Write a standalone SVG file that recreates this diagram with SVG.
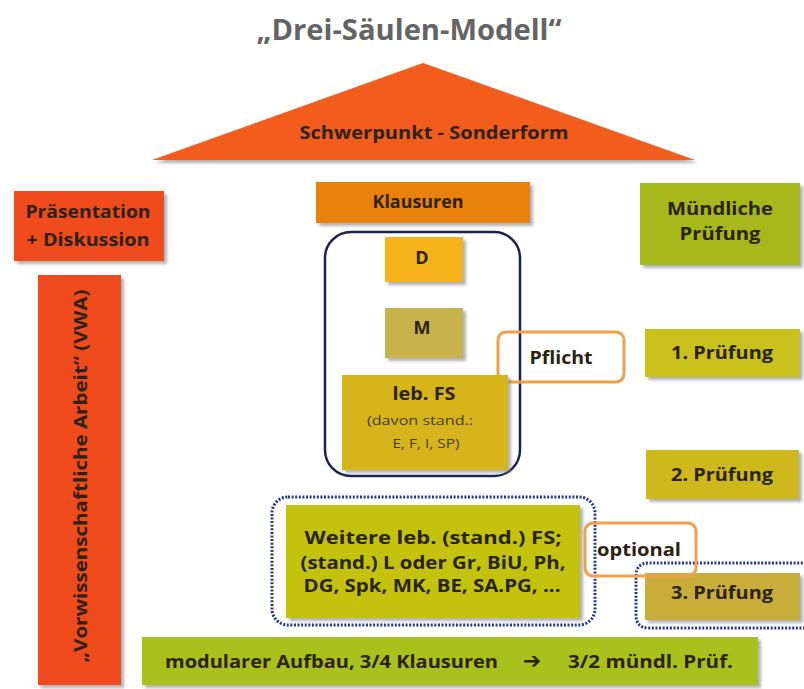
<svg xmlns="http://www.w3.org/2000/svg" width="804" height="689" viewBox="0 0 804 689">
<style>
text{font-family:"Open Sans","Liberation Sans",sans-serif}
.t{font-weight:bold;font-size:18px;fill:#2b2210;text-anchor:middle}
.s{font-size:13px;fill:#4a3a10;text-anchor:middle}
.box{filter:url(#sh)}
.ring{fill:none;stroke:#f0a048;stroke-width:3}
.dot{fill:none;stroke:#25368c;stroke-width:3;stroke-dasharray:2 1.6}
</style>
<defs>
<filter id="sh" x="-10%" y="-10%" width="130%" height="140%">
<feDropShadow dx="3" dy="3" stdDeviation="1.5" flood-color="#808080" flood-opacity="0.6"/>
</filter>
</defs>
<rect width="804" height="689" fill="#ffffff"/>
<text x="409" y="40" font-weight="bold" font-size="28" fill="#646464" text-anchor="middle" textLength="305" lengthAdjust="spacingAndGlyphs">„Drei-Säulen-Modell“</text>
<g id="roof">
<polygon class="box" points="152,160 423,63 695,160" fill="#f25c1a"/>
<text class="t" x="434" y="139" textLength="269" lengthAdjust="spacingAndGlyphs">Schwerpunkt - Sonderform</text>
</g>
<g id="praesentation">
<rect class="box" x="14" y="191" width="150" height="70" fill="#f04c1c"/>
<text class="t" x="88" y="218" textLength="125" lengthAdjust="spacingAndGlyphs">Präsentation</text>
<text class="t" x="88" y="246" textLength="123" lengthAdjust="spacingAndGlyphs">+ Diskussion</text>
</g>
<g id="vwa">
<rect class="box" x="38" y="275" width="83" height="410" fill="#f04c1c"/>
<text class="t" transform="translate(87,476) rotate(-90)" textLength="373" lengthAdjust="spacingAndGlyphs">„Vorwissenschaftliche Arbeit“ (VWA)</text>
</g>
<g id="klausuren">
<rect class="box" x="316" y="182" width="214" height="41" fill="#e8820f"/>
<text class="t" x="418" y="208" textLength="91" lengthAdjust="spacingAndGlyphs">Klausuren</text>
</g>
<g id="pflicht-frame">
<rect x="325" y="232" width="195" height="244" rx="26" fill="none" stroke="#1c2250" stroke-width="2.5"/>
</g>
<g id="pflicht">
<rect class="ring" x="498" y="332" width="126" height="50" rx="8"/>
<text class="t" x="561" y="364" textLength="63" lengthAdjust="spacingAndGlyphs">Pflicht</text>
</g>
<g id="d">
<rect class="box" x="385" y="237" width="78" height="45" fill="#f6b31b"/>
<text class="t" x="422" y="264">D</text>
</g>
<g id="m">
<rect class="box" x="385" y="308" width="78" height="50" fill="#c8b24c"/>
<text class="t" x="422" y="334">M</text>
</g>
<g id="lebfs">
<rect class="box" x="342" y="375" width="166" height="95" fill="#d6b51a"/>
<text class="t" x="424" y="400" textLength="63" lengthAdjust="spacingAndGlyphs">leb. FS</text>
<text class="s" x="420" y="425" textLength="106" lengthAdjust="spacingAndGlyphs">(davon stand.:</text>
<text class="s" x="426" y="448" textLength="67" lengthAdjust="spacingAndGlyphs">E, F, I, SP)</text>
</g>
<g id="muendlich">
<rect class="box" x="640" y="183" width="160" height="82" fill="#a6b81c"/>
<text class="t" x="720" y="215" textLength="106" lengthAdjust="spacingAndGlyphs">Mündliche</text>
<text class="t" x="720" y="240" textLength="81" lengthAdjust="spacingAndGlyphs">Prüfung</text>
</g>
<g id="pruefung1">
<rect class="box" x="645" y="329" width="155" height="48" fill="#c9c11e"/>
<text class="t" x="722" y="359" textLength="102" lengthAdjust="spacingAndGlyphs">1. Prüfung</text>
</g>
<g id="pruefung2">
<rect class="box" x="646" y="450" width="153" height="49" fill="#cdb91e"/>
<text class="t" x="722" y="481" textLength="102" lengthAdjust="spacingAndGlyphs">2. Prüfung</text>
</g>
<g id="weitere-frame">
<rect class="dot" x="272" y="497" width="323" height="128" rx="16"/>
</g>
<g id="weitere">
<rect class="box" x="286" y="505" width="294" height="113" fill="#c3c30a"/>
<text class="t" x="433" y="544" textLength="257" lengthAdjust="spacingAndGlyphs">Weitere leb. (stand.) FS;</text>
<text class="t" x="433" y="569" textLength="265" lengthAdjust="spacingAndGlyphs">(stand.) L oder Gr, BiU, Ph,</text>
<text class="t" x="432" y="592" textLength="257" lengthAdjust="spacingAndGlyphs">DG, Spk, MK, BE, SA.PG, ...</text>
</g>
<g id="pruefung3-frame">
<path class="dot" d="M810,563 H649 Q636,563 636,576 V615 Q636,628 649,628 H810"/>
</g>
<g id="pruefung3">
<rect class="box" x="645" y="573" width="155" height="47" fill="#c8ad3a"/>
<text class="t" x="722" y="599" textLength="102" lengthAdjust="spacingAndGlyphs">3. Prüfung</text>
</g>
<g id="optional">
<rect class="ring" x="585" y="523" width="111" height="53" rx="8"/>
<text class="t" x="639" y="556" textLength="84" lengthAdjust="spacingAndGlyphs">optional</text>
</g>
<g id="modular">
<rect class="box" x="142" y="637" width="616" height="48" fill="#a9c11e"/>
<text class="t" y="668"><tspan x="331.5" textLength="333" lengthAdjust="spacingAndGlyphs">modularer Aufbau, 3/4 Klausuren</tspan><tspan x="532" font-family="'DejaVu Sans',sans-serif" font-size="22">➔</tspan><tspan x="650.5" textLength="165" lengthAdjust="spacingAndGlyphs">3/2 mündl. Prüf.</tspan></text>
</g>
</svg>
